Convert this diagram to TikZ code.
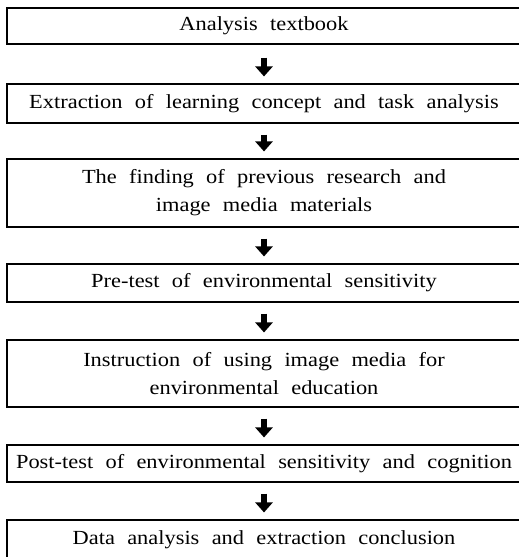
\documentclass[tikz,border=0pt]{standalone}
\usepackage{fontspec}
\setmainfont{Liberation Serif}[FakeStretch=1.12, WordSpace=2.2]
\usetikzlibrary{arrows.meta}
\begin{document}
\begin{tikzpicture}[x=1pt,y=-1pt,
  stagebox/.style={draw, line width=1.1pt, minimum width=530pt, inner sep=0pt,
    font=\fontsize{20}{28}\selectfont, align=center},
  flowarrow/.style={line width=6pt, -{Triangle[width=17pt,length=10pt]},
    shorten <=11pt, shorten >=7pt}]
\useasboundingbox (0,0) rectangle (519,557);
% research procedure stages (right edges run past the page)
\node[stagebox, minimum height=36pt] (b1) at (272,26) {\hspace*{-16pt}Analysis textbook};
\node[stagebox, minimum height=39pt] (b2) at (272,103.5) {\hspace*{-16pt}Extraction of learning concept and task analysis};
\node[stagebox, minimum height=68pt] (b3) at (272,193) {\hspace*{-16pt}The finding of previous research and\\\hspace*{-16pt}image media materials};
\node[stagebox, minimum height=38pt] (b4) at (272,283) {\hspace*{-16pt}Pre-test of environmental sensitivity};
\node[stagebox, minimum height=67pt] (b5) at (272,373.5) {\hspace*{-16pt}Instruction of using image media for\\\hspace*{-16pt}environmental education};
\node[stagebox, minimum height=37pt] (b6) at (272,463.5) {\hspace*{-16pt}Post-test of environmental sensitivity and cognition};
\node[stagebox, minimum height=40pt] (b7) at (272,540) {\hspace*{-16pt}Data analysis and extraction conclusion};
% arrows between stages, on the text axis
\draw[flowarrow, shorten <=13pt] ([xshift=-8pt]b1.south) -- ([xshift=-8pt]b2.north);
\draw[flowarrow, shorten <=11pt] ([xshift=-8pt]b2.south) -- ([xshift=-8pt]b3.north);
\draw[flowarrow] ([xshift=-8pt]b3.south) -- ([xshift=-8pt]b4.north);
\draw[flowarrow] ([xshift=-8pt]b4.south) -- ([xshift=-8pt]b5.north);
\draw[flowarrow] ([xshift=-8pt]b5.south) -- ([xshift=-8pt]b6.north);
\draw[flowarrow] ([xshift=-8pt]b6.south) -- ([xshift=-8pt]b7.north);
\end{tikzpicture}
\end{document}
